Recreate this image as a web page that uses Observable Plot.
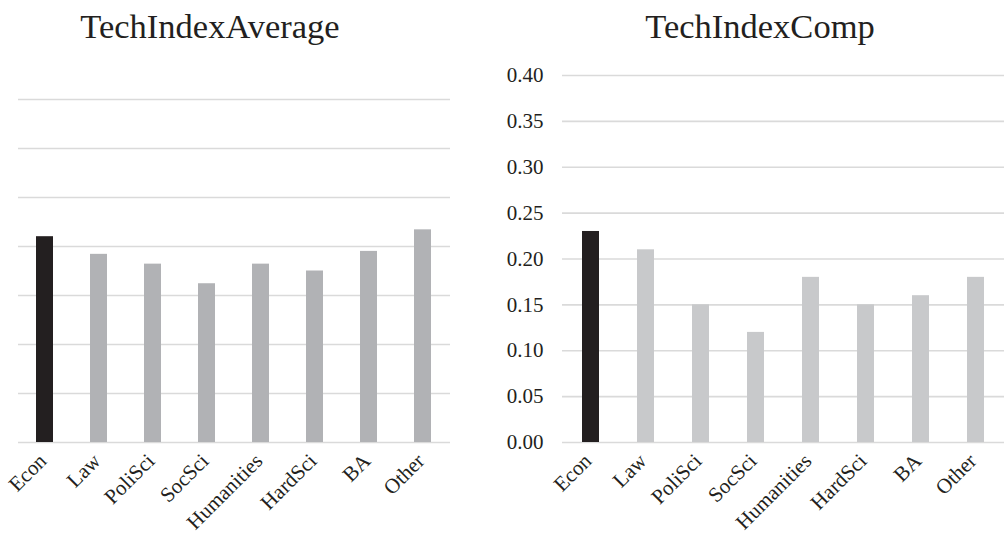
<!DOCTYPE html>
<html>
<head>
<meta charset="utf-8">
<script src="https://cdn.jsdelivr.net/npm/d3@7"></script>
<script src="https://cdn.jsdelivr.net/npm/@observablehq/plot@0.6"></script>
<style>
  body { margin: 0; background: #fff; }
  #root { position: relative; width: 1005px; height: 543px; font-family: "Liberation Serif", serif; color: #231f20; }
  .title { position: absolute; top: 7px; font-size: 34.5px; white-space: nowrap; transform: translateX(-50%); }
  .panel { position: absolute; top: 60px; }
  .panel svg text { font-family: "Liberation Serif", serif; }
</style>
</head>
<body>
<div id="root">
  <div class="title" style="left:210px">TechIndexAverage</div>
  <div class="title" style="left:760px">TechIndexComp</div>
  <div class="panel" id="left" style="left:0px"></div>
  <div class="panel" id="right" style="left:480px"></div>
</div>
<script>
const categories = ["Econ", "Law", "PoliSci", "SocSci", "Humanities", "HardSci", "BA", "Other"];
const techIndexAverage = [0.210, 0.192, 0.182, 0.162, 0.182, 0.175, 0.195, 0.217];
const techIndexComp = [0.23, 0.21, 0.15, 0.12, 0.18, 0.15, 0.16, 0.18];
const leftTicks = [0, 0.05, 0.10, 0.15, 0.20, 0.25, 0.30, 0.35];
const rightTicks = [0, 0.05, 0.10, 0.15, 0.20, 0.25, 0.30, 0.35, 0.40];

const highlight = "Econ";
const leftData = categories.map((c, i) => ({cat: c, value: techIndexAverage[i]}));
const rightData = categories.map((c, i) => ({cat: c, value: techIndexComp[i]}));

const gridColor = "#dadada";
const textColor = "#231f20";
const font = "Liberation Serif";
const style = {fontFamily: font, fontSize: "21px", color: textColor, background: "transparent"};

function draw() {
  const left = Plot.plot({
    width: 470, height: 483,
    marginTop: 39, marginBottom: 101, marginLeft: 18, marginRight: 20,
    style,
    x: {domain: categories, paddingInner: 0.685, paddingOuter: 0.3425},
    y: {domain: [0, 0.35], axis: null},
    marks: [
      Plot.gridY(leftTicks, {stroke: gridColor, strokeOpacity: 1, strokeWidth: 1.6}),
      Plot.barY(leftData, {x: "cat", y: "value", fill: d => d.cat === highlight ? "#231f20" : "#b1b2b5"}),
      Plot.axisX({tickRotate: -45, tickSize: 0, tickPadding: 15, dx: -2, fontSize: 21, fontFamily: font, fill: textColor, label: null})
    ]
  });
  document.getElementById("left").replaceChildren(left);

  const right = Plot.plot({
    width: 525, height: 483,
    marginTop: 15, marginBottom: 101, marginLeft: 82, marginRight: 1,
    style,
    x: {domain: categories, paddingInner: 0.685, paddingOuter: 0.3425},
    y: {domain: [0, 0.40]},
    marks: [
      Plot.gridY(rightTicks, {stroke: gridColor, strokeOpacity: 1, strokeWidth: 1.6}),
      Plot.barY(rightData, {x: "cat", y: "value", fill: d => d.cat === highlight ? "#231f20" : "#c8c9cb"}),
      Plot.axisY(rightTicks, {tickSize: 0, tickPadding: 19, fontSize: 21, fontFamily: font, fill: textColor, tickFormat: d3.format(".2f"), label: null}),
      Plot.axisX({tickRotate: -45, tickSize: 0, tickPadding: 15, dx: -3, fontSize: 21, fontFamily: font, fill: textColor, label: null})
    ]
  });
  document.getElementById("right").replaceChildren(right);
  document.querySelectorAll(".panel svg").forEach(s => s.setAttribute("font-family", "Liberation Serif, serif"));
}
draw();
if (document.fonts) {
  document.fonts.ready.then(draw);
}
</script>
</body>
</html>
